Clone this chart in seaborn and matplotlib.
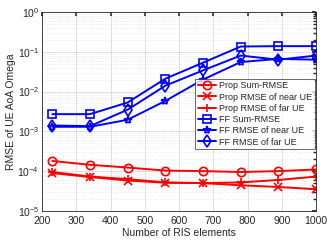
import matplotlib

matplotlib.use("Agg")
import matplotlib.pyplot as plt
import numpy as np
import pandas as pd
import seaborn as sns
from matplotlib.ticker import LogLocator, NullFormatter

ris_elements = [230, 340, 450, 560, 670, 780, 890, 1000]

prop_sum = [1.8e-4, 1.44e-4, 1.23e-4, 1.03e-4, 1.0e-4, 9.5e-5, 1.0e-4, 1.1e-4]
prop_near = [8.9e-5, 7.1e-5, 5.8e-5, 5.1e-5, 5.0e-5, 4.4e-5, 4.0e-5, 3.5e-5]
prop_far = [9.5e-5, 7.3e-5, 6.3e-5, 5.2e-5, 5.0e-5, 5.2e-5, 6.0e-5, 7.3e-5]
ff_sum = [2.7e-3, 2.7e-3, 5.3e-3, 2.1e-2, 5.3e-2, 1.35e-1, 1.38e-1, 1.38e-1]
ff_near = [1.3e-3, 1.3e-3, 1.95e-3, 5.8e-3, 2.0e-2, 5.5e-2, 6.6e-2, 6.3e-2]
ff_far = [1.4e-3, 1.35e-3, 3.5e-3, 1.4e-2, 3.4e-2, 8.0e-2, 6.3e-2, 8.0e-2]

series = [
    ("Prop Sum-RMSE", prop_sum, "red", "o"),
    ("Prop RMSE of near UE", prop_near, "red", "x"),
    ("Prop RMSE of far UE", prop_far, "red", "+"),
    ("FF Sum-RMSE", ff_sum, "blue", "s"),
    ("FF RMSE of near UE", ff_near, "blue", "*"),
    ("FF RMSE of far UE", ff_far, "blue", "d"),
]

sns.set_theme(style="white")
plt.rcParams["font.family"] = ["Liberation Sans", "DejaVu Sans"]

fig = plt.figure(figsize=(3.32, 2.43), dpi=100)
ax = fig.add_axes([0.1265, 0.132, 0.8255, 0.819])

for name, values, color, marker in series:
    frame = pd.DataFrame({"x": ris_elements, "y": values})
    sns.lineplot(data=frame, x="x", y="y", ax=ax, color=color, marker=marker,
                 markersize=6, markerfacecolor="none", markeredgecolor=color,
                 markeredgewidth=1.2, linewidth=1.4, label=name)

ax.set_yscale("log")
ax.set_xlim(200, 1000)
ax.set_ylim(1e-5, 1e0)
ax.set_xticks(np.arange(200, 1001, 100))
ax.yaxis.set_major_locator(LogLocator(base=10, numticks=10))
ax.yaxis.set_minor_locator(LogLocator(base=10, subs=np.arange(2, 10), numticks=10))
ax.yaxis.set_minor_formatter(NullFormatter())
ax.grid(True, which="major", color="#d9d9d9", linewidth=0.6)
ax.grid(True, which="minor", axis="y", color="#e0e0e0", linewidth=0.5, linestyle=":")
ax.tick_params(axis="both", which="both", direction="in", labelsize=7.5,
               top=True, right=True, length=2, pad=2, colors="#262626")
ax.tick_params(axis="both", which="major", length=3)
ax.tick_params(axis="x", which="major", pad=4)
for spine in ax.spines.values():
    spine.set_color("#262626")
    spine.set_linewidth(0.6)
ax.set_xlabel("Number of RIS elements", fontsize=7.5, labelpad=1)
ax.set_ylabel("RMSE of UE AoA Omega", fontsize=7.5, labelpad=1)

leg = ax.legend(loc="upper left", bbox_to_anchor=(0.56, 0.665), fontsize=6.5,
                frameon=True, fancybox=False, borderpad=0.3, labelspacing=0.25,
                handlelength=2.0, handletextpad=0.3, borderaxespad=0)
leg.get_frame().set_edgecolor("#262626")
leg.get_frame().set_linewidth(0.6)

fig.savefig("out.png", dpi=100)
